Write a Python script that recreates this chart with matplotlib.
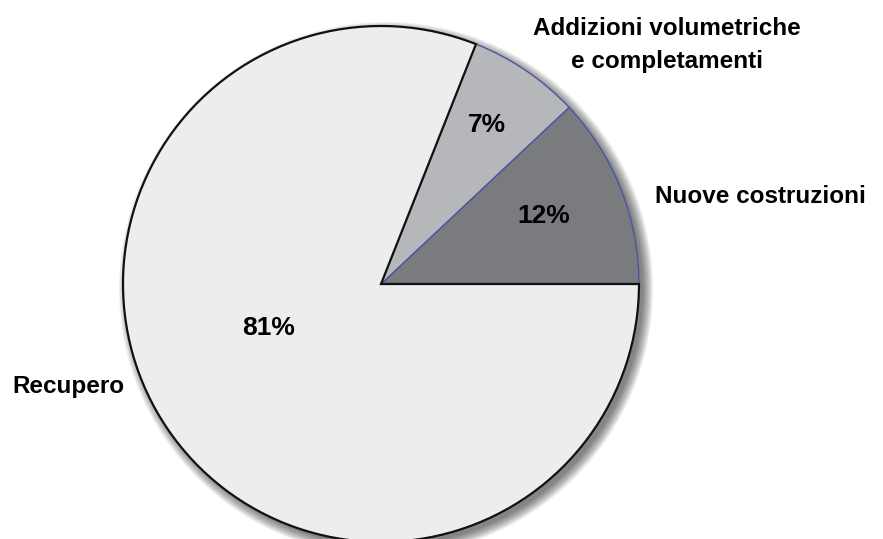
import matplotlib
matplotlib.use("Agg")
import matplotlib.pyplot as plt
from matplotlib.patches import Circle

categories = ["Nuove costruzioni", "Addizioni volumetriche\ne completamenti", "Recupero"]
values = [12, 7, 81]
pct_labels = ["12%", "7%", "81%"]
colors = ["#7a7b7f", "#b5b7ba", "#eceded"]
edgecolors = ["#4a55a0", "#4a55a0", "#111111"]

W, H = 883, 539
fig = plt.figure(figsize=(W / 100, H / 100), dpi=100)
ax = fig.add_axes([0, 0, 1, 1])

cx, cy, R = 381, H - 284, 258

# soft shadow
for k in range(14, 0, -1):
    ax.add_patch(Circle((cx + 5, cy - 5), R + k * 0.8 - 2, color="black",
                        alpha=0.045, lw=0, zorder=0))

wedges, _ = ax.pie(values, colors=colors, startangle=0, counterclock=True,
                   center=(cx, cy), radius=R, frame=True)
for w, ec in zip(wedges, edgecolors):
    w.set_edgecolor(ec)
    w.set_linewidth(1.0 if ec != "#111111" else 1.6)
    w.set_zorder(2)
wedges[2].set_zorder(3)
ax.set_xlim(0, W)
ax.set_ylim(0, H)
ax.set_aspect("equal")
ax.axis("off")

font = "Liberation Sans"
pct_pos = [(544, 223), (487, 132), (269, 335)]
for (px, py), t in zip(pct_pos, pct_labels):
    ax.text(px, H - py, t, ha="center", va="baseline", fontsize=19,
            fontweight="bold", family=font, zorder=5)

lines = categories[1].split("\n")
ax.text(667, H - 35, lines[0], ha="center", va="baseline", fontsize=17.5,
        fontweight="bold", family=font)
ax.text(667, H - 68, lines[1], ha="center", va="baseline", fontsize=17.5,
        fontweight="bold", family=font)
ax.text(655, H - 203, categories[0], ha="left", va="baseline", fontsize=17.5,
        fontweight="bold", family=font)
ax.text(12, H - 393, categories[2], ha="left", va="baseline", fontsize=17.5,
        fontweight="bold", family=font)

fig.savefig("out.png", dpi=100)
